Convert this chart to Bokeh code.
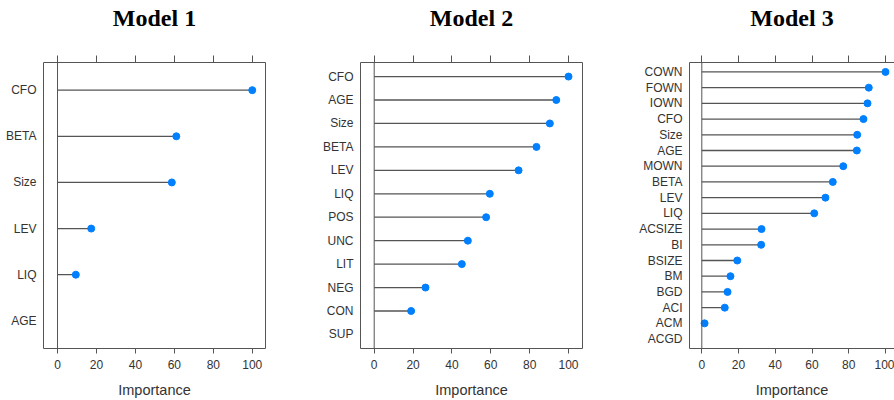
from bokeh.plotting import figure
from bokeh.layouts import row
from bokeh.models import Range1d, FixedTicker, LinearAxis, Span, Title
from bokeh.embed import file_html
from bokeh.resources import INLINE

# ---- data ----
titles = ["Model 1", "Model 2", "Model 3"]
m1_vars = ["CFO", "BETA", "Size", "LEV", "LIQ", "AGE"]
m1_vals = [100, 61.0, 58.7, 17.3, 9.4, 0]
m2_vars = ["CFO", "AGE", "Size", "BETA", "LEV", "LIQ", "POS", "UNC", "LIT", "NEG", "CON", "SUP"]
m2_vals = [100, 93.7, 90.4, 83.5, 74.3, 59.5, 57.6, 48.2, 45.1, 26.4, 19.0, 0]
m3_vars = ["COWN", "FOWN", "IOWN", "CFO", "Size", "AGE", "MOWN", "BETA", "LEV", "LIQ",
           "ACSIZE", "BI", "BSIZE", "BM", "BGD", "ACI", "ACM", "ACGD"]
m3_vals = [100, 90.9, 90.2, 88.0, 84.6, 84.4, 77.0, 71.3, 67.3, 61.2,
           32.5, 32.3, 19.3, 15.6, 14.0, 12.5, 1.5, 0]
x_ticks = [0, 20, 40, 60, 80, 100]
x_label = "Importance"

FRAME = "#555555"
LABEL = "#333333"
DOT = "#0080ff"
SANS = "Liberation Sans"
H = 400


def panel(title, names, vals, width, left, right, xs, xe, outline=True):
    n = len(names)
    pos = [n - i for i in range(n)]
    p = figure(width=width, height=H, output_backend="svg", toolbar_location=None,
               x_range=Range1d(xs, xe), y_range=Range1d(0.4, n + 0.6),
               min_border_left=left, min_border_right=right,
               min_border_top=62, min_border_bottom=51,
               x_axis_location=None, y_axis_location=None)
    p.grid.visible = False
    p.background_fill_color = "white"
    p.border_fill_color = "white"
    if outline:
        p.outline_line_color = FRAME
        p.outline_line_width = 1
    else:
        p.outline_line_color = None

    # bottom axis
    bx = LinearAxis(ticker=FixedTicker(ticks=x_ticks), axis_label=x_label)
    bx.major_tick_out = 5
    bx.major_tick_in = 0
    bx.minor_tick_line_color = None
    bx.major_tick_line_color = FRAME
    bx.axis_line_color = None if outline else FRAME
    bx.major_label_text_font = SANS
    bx.major_label_text_font_size = "12px"
    bx.major_label_text_color = LABEL
    bx.major_label_standoff = 6
    bx.axis_label_text_font = SANS
    bx.axis_label_text_font_size = "14.5px"
    bx.axis_label_text_font_style = "normal"
    bx.axis_label_text_color = LABEL
    bx.axis_label_standoff = 10
    p.add_layout(bx, "below")

    # top axis: tick marks only (drawn as minor ticks, so no labels)
    tx = LinearAxis(ticker=FixedTicker(ticks=[], minor_ticks=x_ticks))
    tx.major_tick_out = 7
    tx.major_tick_in = 0
    tx.major_tick_line_color = None
    tx.minor_tick_out = 7
    tx.minor_tick_in = 0
    tx.minor_tick_line_color = FRAME
    tx.axis_line_color = None if outline else FRAME
    tx.major_label_standoff = 0
    p.add_layout(tx, "above")

    # blank spacer line between the tick marks and the panel title
    p.add_layout(Title(text=" ", text_font=SANS, text_font_size="12px",
                       text_color="white", standoff=9), "above")

    p.add_layout(Title(text=title, align="center", text_font="Liberation Serif",
                       text_font_style="bold", text_font_size="24px", text_color="black",
                       standoff=0), "above")

    # left axis with variable names
    ly = LinearAxis(ticker=FixedTicker(ticks=pos),
                    major_label_overrides={pp: nm for pp, nm in zip(pos, names)})
    ly.major_tick_out = 0
    ly.major_tick_in = 0
    ly.major_tick_line_color = None
    ly.minor_tick_line_color = None
    ly.axis_line_color = None if outline else FRAME
    ly.major_label_text_font = SANS
    ly.major_label_text_font_size = "12px"
    ly.major_label_text_color = LABEL
    ly.major_label_standoff = 7
    p.add_layout(ly, "left")

    p.add_layout(Span(location=0, dimension="height", line_color=FRAME, line_width=1))

    p.segment(x0=[0] * n, y0=pos, x1=vals, y1=pos, line_color=FRAME, line_width=1.3)
    dx = [v for v in vals if v > 0]
    dy = [pp for pp, v in zip(pos, vals) if v > 0]
    p.scatter(dx, dy, size=7, fill_color=DOT, line_color=DOT)
    return p


p1 = panel(titles[0], m1_vars, m1_vals, 300, 43, 35, -7.2, 106.8)
p2 = panel(titles[1], m2_vars, m2_vals, 300, 60, 18, -7.05, 107.2)
p3 = panel(titles[2], m3_vars, m3_vals, 294, 89, 0, -6.7, 104.9, outline=False)

layout = row(p1, p2, p3, spacing=0)
open("out.html", "w").write(file_html(layout, INLINE))
